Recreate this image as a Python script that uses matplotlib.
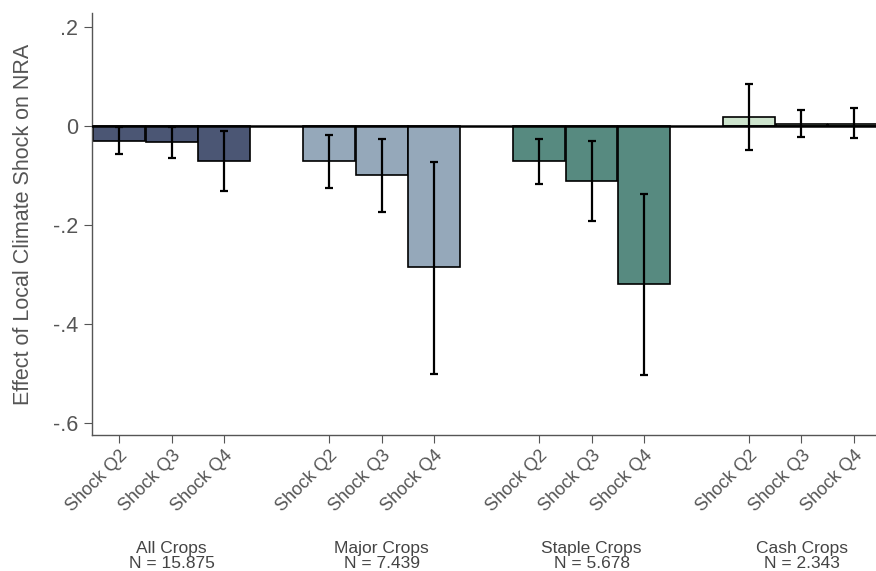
import matplotlib
matplotlib.use("Agg")
import matplotlib.pyplot as plt
import numpy as np

plt.rcParams['font.family'] = ['Liberation Sans', 'DejaVu Sans']

groups = ["All Crops\nN = 15.875", "Major Crops\nN = 7.439",
          "Staple Crops\nN = 5.678", "Cash Crops\nN = 2.343"]
shock_labels = ["Shock Q2", "Shock Q3", "Shock Q4"]
group_colors = ["#4b5674", "#95a8ba", "#578a80", "#cde4cd"]

coef_all = [-0.029, -0.032, -0.070]
coef_major = [-0.071, -0.099, -0.285]
coef_staple = [-0.071, -0.110, -0.318]
coef_cash = [0.018, 0.005, 0.005]

lo_all = [-0.057, -0.064, -0.131]
hi_all = [-0.001, -0.002, -0.010]
lo_major = [-0.124, -0.173, -0.500]
hi_major = [-0.018, -0.025, -0.072]
lo_staple = [-0.117, -0.191, -0.503]
hi_staple = [-0.026, -0.030, -0.137]
lo_cash = [-0.048, -0.021, -0.023]
hi_cash = [0.086, 0.033, 0.036]

coefs = [coef_all, coef_major, coef_staple, coef_cash]
los = [lo_all, lo_major, lo_staple, lo_cash]
his = [hi_all, hi_major, hi_staple, hi_cash]

fig = plt.figure(figsize=(8.76, 5.71), dpi=100)
ax = fig.add_axes([92.3/876, 1-435/571, 1-92.3/876, (435-13)/571])

gray = "#555555"
positions = []
for g, (c, lo, hi, col) in enumerate(zip(coefs, los, his, group_colors)):
    x = np.arange(3) + 4*g
    positions.extend(x)
    ax.bar(x, c, width=0.985, color=col, edgecolor="black", linewidth=1.2, zorder=2)
    c = np.array(c); lo = np.array(lo); hi = np.array(hi)
    ax.errorbar(x, c, yerr=[c-lo, hi-c], fmt="none", ecolor="black",
                elinewidth=1.6, capsize=3, capthick=1.6, zorder=4)

ax.axhline(0, color="black", linewidth=1.8, zorder=3)

ax.set_xlim(-0.515, 14.42)
ax.set_ylim(-0.624, 0.229)
ax.set_yticks([0.2, 0, -0.2, -0.4, -0.6])
ax.set_yticklabels([".2", "0", "-.2", "-.4", "-.6"], fontsize=15.5, color=gray)
ax.set_xticks(positions)
ax.set_xticklabels(shock_labels*4, rotation=45, ha="right", rotation_mode="anchor",
                   fontsize=13, color=gray)
ax.tick_params(axis="both", colors=gray, length=6, width=0.8, direction="out")
ax.tick_params(axis="x", labelcolor=gray, pad=3)
ax.tick_params(axis="y", labelcolor=gray, pad=4)

for s in ["top", "right"]:
    ax.spines[s].set_visible(False)
for s in ["left", "bottom"]:
    ax.spines[s].set_color(gray)
    ax.spines[s].set_linewidth(1.0)

ax.set_ylabel("Effect of Local Climate Shock on NRA", fontsize=15.5, color=gray, labelpad=14)

for g, lab in enumerate(groups):
    xc = 4*g + 1
    xf = (119 + 52.5*xc)/876
    fig.text(xf, 1-555.5/571, lab, ha="center", va="center", fontsize=12.5,
             color="#444444", linespacing=1.0)

fig.savefig("out.png", dpi=100)
